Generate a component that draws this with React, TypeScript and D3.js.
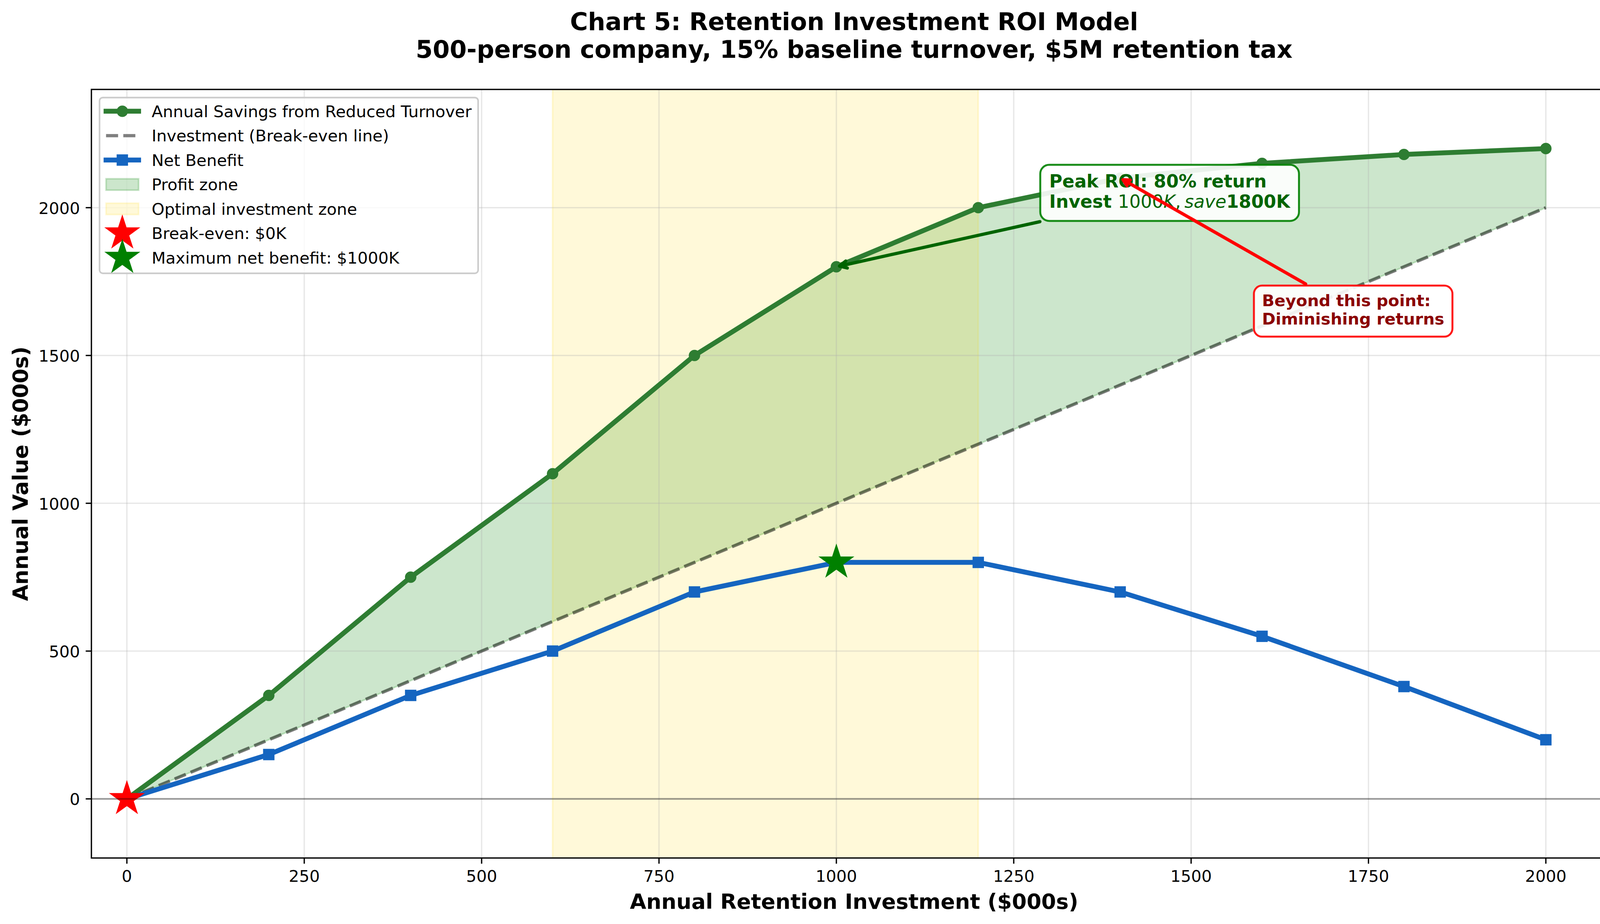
import React, { useEffect } from 'react';
import * as d3 from 'd3';

// ---------------- data ----------------
const investment = [0, 200, 400, 600, 800, 1000, 1200, 1400, 1600, 1800, 2000];
const savings = [0, 350, 750, 1100, 1500, 1800, 2000, 2100, 2150, 2180, 2200];
const netBenefit = [0, 150, 350, 500, 700, 800, 800, 700, 550, 380, 200];
const optimalZone = [600, 1200];
const breakEvenPoint = [0, 0];
const maxBenefitPoint = [1000, 800];
const xTicks = [0, 250, 500, 750, 1000, 1250, 1500, 1750, 2000];
const yTicks = [0, 500, 1000, 1500, 2000];
const xDomain = [-50, 2100];
const yDomain = [-200, 2400];

const titleLines = [
  'Chart 5: Retention Investment ROI Model',
  '500-person company, 15% baseline turnover, $5M retention tax',
];
const xLabel = 'Annual Retention Investment ($000s)';
const yLabel = 'Annual Value ($000s)';
const legendLabels = [
  'Annual Savings from Reduced Turnover',
  'Investment (Break-even line)',
  'Net Benefit',
  'Profit zone',
  'Optimal investment zone',
  'Break-even: $0K',
  'Maximum net benefit: $1000K',
];
const peakNote = { xy: [1000, 1800], text: [1300, 2050], line1: 'Peak ROI: 80% return' };
const warnNote = { xy: [1400, 2100], text: [1600, 1650], lines: ['Beyond this point:', 'Diminishing returns'] };

// ---------------- layout / style ----------------
const W = 4168;
const H = 2366;
const PT = 300 / 72;
const M = { left: 234, right: 4139, top: 229, bottom: 2197 };
const FONT = '"DejaVu Sans", "Liberation Sans", sans-serif';
const FS = { title: 15 * PT, label: 13 * PT, tick: 10 * PT, legend: 10 * PT, peak: 11 * PT, warn: 10 * PT };
const C = {
  savings: '#2E7D32',
  net: '#1565C0',
  fill: 'rgb(0,128,0)',
  gold: 'rgb(255,215,0)',
  darkgreen: '#006400',
  darkred: '#8B0000',
};

let _canvas: HTMLCanvasElement | null = null;
function measure(text: string, font: string): number {
  if (!_canvas) _canvas = document.createElement('canvas');
  const ctx = _canvas.getContext('2d')!;
  ctx.font = font;
  return ctx.measureText(text).width;
}

function starPath(cx: number, cy: number, R: number): string {
  const r = R * 0.381966;
  const pts: string[] = [];
  for (let k = 0; k < 10; k++) {
    const a = -Math.PI / 2 + (k * Math.PI) / 5;
    const rr = k % 2 === 0 ? R : r;
    pts.push(`${cx + rr * Math.cos(a)},${cy + rr * Math.sin(a)}`);
  }
  return 'M' + pts.join('L') + 'Z';
}

type Box = { x: number; y: number; w: number; h: number };
function arrowPath(box: Box, tx: number, ty: number, shrink: number, headLen: number, headW: number): string {
  const cx = box.x + box.w / 2;
  const cy = box.y + box.h / 2;
  const dx = tx - cx;
  const dy = ty - cy;
  const L = Math.hypot(dx, dy);
  const ux = dx / L;
  const uy = dy / L;
  const tX = dx !== 0 ? box.w / 2 / Math.abs(dx) : Infinity;
  const tY = dy !== 0 ? box.h / 2 / Math.abs(dy) : Infinity;
  const te = Math.min(tX, tY);
  const sx = cx + dx * te + ux * shrink;
  const sy = cy + dy * te + uy * shrink;
  const ex = tx - ux * shrink;
  const ey = ty - uy * shrink;
  const bx = ex - ux * headLen;
  const by = ey - uy * headLen;
  const px = -uy;
  const py = ux;
  return `M${sx},${sy}L${ex},${ey}M${bx + px * headW},${by + py * headW}L${ex},${ey}L${bx - px * headW},${by - py * headW}`;
}

export default function App() {
  useEffect(() => {
    document.body.style.margin = '0';
  }, []);

  const x = d3.scaleLinear().domain(xDomain).range([M.left, M.right]);
  const y = d3.scaleLinear().domain(yDomain).range([M.bottom, M.top]);

  const lineGen = d3
    .line<number>()
    .x((_, i) => x(investment[i]))
    .y((d) => y(d));
  const areaGen = d3
    .area<number>()
    .x((d) => x(d))
    .y0((d) => y(d))
    .y1((_, i) => y(savings[i]));

  const lw3 = 3 * PT;
  const mr = 3 * PT; // marker radius (ms=6)
  const mew = 1 * PT;
  const starR = 10 * PT;

  // ----- peak annotation box -----
  const pf = FS.peak;
  const boldP = `bold ${pf}px ${FONT}`;
  const normP = `${pf}px ${FONT}`;
  const itP = `italic ${pf}px ${FONT}`;
  const seg2 = [
    { t: 'Invest ', f: boldP, w: 'bold', s: 'normal' },
    { t: '1000', f: normP, w: 'normal', s: 'normal' },
    { t: 'K', f: itP, w: 'normal', s: 'italic' },
    { t: ',', f: normP, w: 'normal', s: 'normal' },
    { t: 'save', f: itP, w: 'normal', s: 'italic', gap: 0.2 * pf },
    { t: '1800K', f: boldP, w: 'bold', s: 'normal' },
  ];
  let cursor = 0;
  const seg2Pos = seg2.map((sg) => {
    const start = cursor + (sg.gap || 0);
    cursor = start + measure(sg.t, sg.f);
    return start;
  });
  const peakW = Math.max(measure(peakNote.line1, boldP), cursor);
  const peakH = (0.76 + 1.14 + 0.236) * pf;
  const peakX = x(peakNote.text[0]);
  const peakTop = y(peakNote.text[1]) - peakH / 2;
  const peakPad = 0.5 * pf;
  const peakBox: Box = { x: peakX - peakPad, y: peakTop - peakPad, w: peakW + 2 * peakPad, h: peakH + 2 * peakPad };

  // ----- warning annotation box -----
  const wf = FS.warn;
  const boldW = `bold ${wf}px ${FONT}`;
  const warnW = Math.max(...warnNote.lines.map((l) => measure(l, boldW)));
  const warnH = (0.76 + 1.14 + 0.236) * wf;
  const warnX = x(warnNote.text[0]);
  const warnTop = y(warnNote.text[1]) - warnH / 2;
  const warnPad = 0.5 * wf;
  const warnBox: Box = { x: warnX - warnPad, y: warnTop - warnPad, w: warnW + 2 * warnPad, h: warnH + 2 * warnPad };

  const peakArrow = arrowPath(peakBox, x(peakNote.xy[0]), y(peakNote.xy[1]), 2 * PT, 0.4 * pf, 0.2 * pf);
  const warnArrow = arrowPath(warnBox, x(warnNote.xy[0]), y(warnNote.xy[1]), 2 * PT, 0.4 * wf, 0.2 * wf);

  // ----- legend -----
  const L = FS.legend;
  const legX = M.left + 0.5 * L;
  const legY = M.top + 0.5 * L;
  const legTextW = Math.max(...legendLabels.map((l) => measure(l, `${L}px ${FONT}`)));
  const legW = 3.2 * L + legTextW + 0.4 * L;
  const legH = 10.8 * L;
  const hx0 = legX + 0.4 * L;
  const hx1 = hx0 + 2 * L;
  const hxc = (hx0 + hx1) / 2;
  const tx = legX + 3.2 * L;
  const rowY = (i: number) => legY + 35 + i * 1.5 * L;

  const cx = (M.left + M.right) / 2;
  const cy = (M.top + M.bottom) / 2;

  return (
    <svg width={W} height={H} viewBox={`0 0 ${W} ${H}`} style={{ display: 'block' }} fontFamily={FONT}>
      <defs>
        <clipPath id="plot">
          <rect x={M.left} y={M.top} width={M.right - M.left} height={M.bottom - M.top} />
        </clipPath>
      </defs>
      <rect x={0} y={0} width={W} height={H} fill="#fff" />

      <g clipPath="url(#plot)">
        {/* profit zone */}
        <path
          d={areaGen(investment) || ''}
          fill={C.fill}
          fillOpacity={0.2}
          stroke={C.fill}
          strokeOpacity={0.2}
          strokeWidth={PT}
        />
        {/* optimal zone */}
        <rect
          x={x(optimalZone[0])}
          y={M.top - 10}
          width={x(optimalZone[1]) - x(optimalZone[0])}
          height={M.bottom - M.top + 20}
          fill={C.gold}
          fillOpacity={0.15}
          stroke={C.gold}
          strokeOpacity={0.15}
          strokeWidth={PT}
        />
        {/* grid */}
        {xTicks.map((t) => (
          <line key={'gx' + t} x1={x(t)} x2={x(t)} y1={M.top} y2={M.bottom} stroke="#b0b0b0" strokeOpacity={0.3} strokeWidth={0.8 * PT} />
        ))}
        {yTicks.map((t) => (
          <line key={'gy' + t} x1={M.left} x2={M.right} y1={y(t)} y2={y(t)} stroke="#b0b0b0" strokeOpacity={0.3} strokeWidth={0.8 * PT} />
        ))}

        {/* savings */}
        <path d={lineGen(savings) || ''} fill="none" stroke={C.savings} strokeWidth={lw3} strokeLinejoin="round" strokeLinecap="square" />
        {savings.map((v, i) => (
          <circle key={'s' + i} cx={x(investment[i])} cy={y(v)} r={mr} fill={C.savings} stroke={C.savings} strokeWidth={mew} />
        ))}
        {/* break-even line */}
        <path
          d={lineGen(investment) || ''}
          fill="none"
          stroke="#000"
          strokeOpacity={0.5}
          strokeWidth={2 * PT}
          strokeDasharray={`${7.4 * PT} ${3.2 * PT}`}
        />
        {/* net benefit */}
        <path d={lineGen(netBenefit) || ''} fill="none" stroke={C.net} strokeWidth={lw3} strokeLinejoin="round" strokeLinecap="square" />
        {netBenefit.map((v, i) => (
          <rect
            key={'n' + i}
            x={x(investment[i]) - mr}
            y={y(v) - mr}
            width={2 * mr}
            height={2 * mr}
            fill={C.net}
            stroke={C.net}
            strokeWidth={mew}
          />
        ))}
        {/* stars */}
        <path d={starPath(x(breakEvenPoint[0]), y(breakEvenPoint[1]), starR)} fill="red" stroke="red" strokeWidth={mew} strokeLinejoin="miter" />
        <path d={starPath(x(maxBenefitPoint[0]), y(maxBenefitPoint[1]), starR)} fill="green" stroke="green" strokeWidth={mew} strokeLinejoin="miter" />
        {/* zero line */}
        <line x1={M.left} x2={M.right} y1={y(0)} y2={y(0)} stroke="#000" strokeOpacity={0.35} strokeWidth={PT} />
      </g>

      {/* spines */}
      <rect x={M.left} y={M.top} width={M.right - M.left} height={M.bottom - M.top} fill="none" stroke="#000" strokeWidth={0.8 * PT} />
      {/* ticks */}
      {xTicks.map((t) => (
        <g key={'tx' + t}>
          <line x1={x(t)} x2={x(t)} y1={M.bottom} y2={M.bottom + 3.5 * PT} stroke="#000" strokeWidth={0.8 * PT} />
          <text x={x(t)} y={M.bottom + 7 * PT + 0.76 * FS.tick} fontSize={FS.tick} textAnchor="middle" fill="#000">
            {t}
          </text>
        </g>
      ))}
      {yTicks.map((t) => (
        <g key={'ty' + t}>
          <line x1={M.left - 3.5 * PT} x2={M.left} y1={y(t)} y2={y(t)} stroke="#000" strokeWidth={0.8 * PT} />
          <text x={M.left - 7 * PT} y={y(t) + 0.38 * FS.tick} fontSize={FS.tick} textAnchor="end" fill="#000">
            {t}
          </text>
        </g>
      ))}

      {/* axis labels */}
      <text x={cx} y={2327} fontSize={FS.label} fontWeight="bold" textAnchor="middle">
        {xLabel}
      </text>
      <text transform={`translate(71,${cy}) rotate(-90)`} fontSize={FS.label} fontWeight="bold" textAnchor="middle">
        {yLabel}
      </text>

      {/* title */}
      {titleLines.map((t, i) => (
        <text key={'t' + i} x={cx} y={77 + i * 1.14 * FS.title} fontSize={FS.title} fontWeight="bold" textAnchor="middle">
          {t}
        </text>
      ))}

      {/* peak annotation */}
      <path d={peakArrow} fill="none" stroke={C.darkgreen} strokeWidth={2 * PT} strokeLinecap="round" strokeLinejoin="round" />
      <rect
        x={peakBox.x}
        y={peakBox.y}
        width={peakBox.w}
        height={peakBox.h}
        rx={peakPad}
        ry={peakPad}
        fill="#fff"
        fillOpacity={0.9}
        stroke="green"
        strokeOpacity={0.9}
        strokeWidth={1.2 * PT}
      />
      <text x={peakX} y={peakTop + 0.76 * pf} fontSize={pf} fontWeight="bold" fill={C.darkgreen}>
        {peakNote.line1}
      </text>
      <text y={peakTop + (0.76 + 1.14) * pf} fontSize={pf} fill={C.darkgreen}>
        {seg2.map((sg, i) => (
          <tspan key={i} x={peakX + seg2Pos[i]} fontWeight={sg.w} fontStyle={sg.s}>
            {sg.t}
          </tspan>
        ))}
      </text>

      {/* warning annotation */}
      <path d={warnArrow} fill="none" stroke="red" strokeWidth={2 * PT} strokeLinecap="round" strokeLinejoin="round" />
      <rect
        x={warnBox.x}
        y={warnBox.y}
        width={warnBox.w}
        height={warnBox.h}
        rx={warnPad}
        ry={warnPad}
        fill="#fff"
        fillOpacity={0.9}
        stroke="red"
        strokeOpacity={0.9}
        strokeWidth={1.2 * PT}
      />
      {warnNote.lines.map((l, i) => (
        <text key={'w' + i} x={warnX} y={warnTop + (0.76 + i * 1.14) * wf} fontSize={wf} fontWeight="bold" fill={C.darkred}>
          {l}
        </text>
      ))}

      {/* legend */}
      <g>
        <rect x={legX} y={legY} width={legW} height={legH} rx={0.2 * L} ry={0.2 * L} fill="#fff" fillOpacity={0.8} stroke="#cccccc" strokeWidth={PT} />
        {/* 0 savings */}
        <line x1={hx0} x2={hx1} y1={rowY(0)} y2={rowY(0)} stroke={C.savings} strokeWidth={lw3} strokeLinecap="square" />
        <circle cx={hxc} cy={rowY(0)} r={mr} fill={C.savings} stroke={C.savings} strokeWidth={mew} />
        {/* 1 dashed */}
        <line
          x1={hx0}
          x2={hx1}
          y1={rowY(1)}
          y2={rowY(1)}
          stroke="#000"
          strokeOpacity={0.5}
          strokeWidth={2 * PT}
          strokeDasharray={`${7.4 * PT} ${3.2 * PT}`}
        />
        {/* 2 net */}
        <line x1={hx0} x2={hx1} y1={rowY(2)} y2={rowY(2)} stroke={C.net} strokeWidth={lw3} strokeLinecap="square" />
        <rect x={hxc - mr} y={rowY(2) - mr} width={2 * mr} height={2 * mr} fill={C.net} stroke={C.net} strokeWidth={mew} />
        {/* 3 profit zone */}
        <rect
          x={hx0}
          y={rowY(3) - 0.35 * L}
          width={2 * L}
          height={0.7 * L}
          fill={C.fill}
          fillOpacity={0.2}
          stroke={C.fill}
          strokeOpacity={0.2}
          strokeWidth={PT}
        />
        {/* 4 optimal zone */}
        <rect
          x={hx0}
          y={rowY(4) - 0.35 * L}
          width={2 * L}
          height={0.7 * L}
          fill={C.gold}
          fillOpacity={0.15}
          stroke={C.gold}
          strokeOpacity={0.15}
          strokeWidth={PT}
        />
        {/* 5,6 stars */}
        <path d={starPath(hxc, rowY(5), starR)} fill="red" stroke="red" strokeWidth={mew} />
        <path d={starPath(hxc, rowY(6), starR)} fill="green" stroke="green" strokeWidth={mew} />
        {legendLabels.map((l, i) => (
          <text key={'l' + i} x={tx} y={rowY(i) + 0.36 * L} fontSize={L} fill="#000">
            {l}
          </text>
        ))}
      </g>
    </svg>
  );
}
